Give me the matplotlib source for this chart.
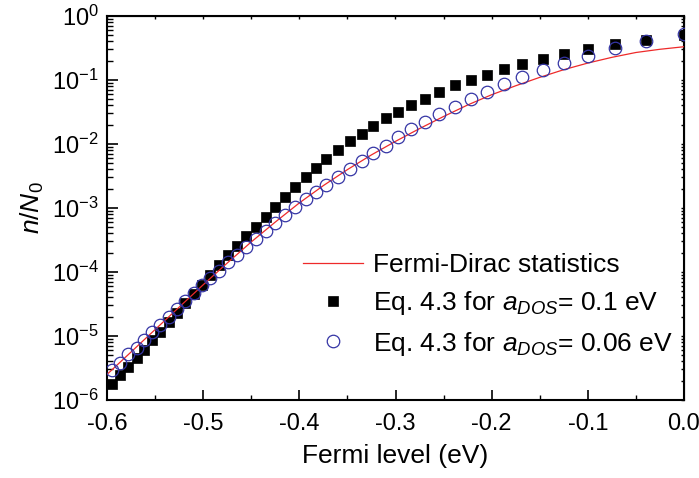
import numpy as np
import matplotlib
matplotlib.use("Agg")
import matplotlib.pyplot as plt
from matplotlib.ticker import LogLocator, NullFormatter, MultipleLocator

plt.rcParams['font.family'] = ['Liberation Sans', 'DejaVu Sans']
plt.rcParams['mathtext.fontset'] = 'custom'
plt.rcParams['mathtext.rm'] = 'Liberation Sans'
plt.rcParams['mathtext.it'] = 'Liberation Sans:italic'
plt.rcParams['mathtext.bf'] = 'Liberation Sans:bold'

# ---- data ----
fermi_level = [-0.595, -0.5865, -0.578, -0.569, -0.562, -0.5535, -0.545, -0.536, -0.5275,
               -0.519, -0.510, -0.501, -0.493, -0.484, -0.474, -0.465, -0.455, -0.445,
               -0.435, -0.425, -0.415, -0.4045, -0.393, -0.383, -0.372, -0.3595, -0.347,
               -0.335, -0.323, -0.310, -0.297, -0.284, -0.269, -0.2545, -0.238, -0.222,
               -0.205, -0.187, -0.168, -0.147, -0.1245, -0.100, -0.072, -0.040, 0.0]

n_adds_01 = [1.78e-6, 2.45e-6, 3.31e-6, 4.47e-6, 6.03e-6, 8.51e-6, 1.17e-5, 1.66e-5, 2.29e-5,
             3.24e-5, 4.47e-5, 6.31e-5, 8.91e-5, 1.29e-4, 1.82e-4, 2.57e-4, 3.63e-4, 5.13e-4,
             7.24e-4, 1.05e-3, 1.51e-3, 2.14e-3, 3.02e-3, 4.22e-3, 5.75e-3, 8.13e-3, 1.10e-2,
             1.45e-2, 1.91e-2, 2.51e-2, 3.20e-2, 4.07e-2, 5.13e-2, 6.61e-2, 8.32e-2, 0.100,
             0.120, 0.148, 0.178, 0.214, 0.257, 0.302, 0.363, 0.422, 0.500]

n_adds_006 = [2.95e-6, 3.83e-6, 5.25e-6, 6.61e-6, 8.71e-6, 1.17e-5, 1.51e-5, 2.00e-5, 2.63e-5,
              3.55e-5, 4.68e-5, 6.31e-5, 8.13e-5, 1.05e-4, 1.45e-4, 1.86e-4, 2.45e-4, 3.31e-4,
              4.37e-4, 5.75e-4, 7.76e-4, 1.05e-3, 1.38e-3, 1.78e-3, 2.29e-3, 3.09e-3, 4.03e-3,
              5.50e-3, 7.16e-3, 9.33e-3, 1.27e-2, 1.70e-2, 2.19e-2, 2.95e-2, 3.80e-2, 5.01e-2,
              6.61e-2, 8.51e-2, 0.110, 0.145, 0.186, 0.237, 0.313, 0.407, 0.520]

fd_energy = [-0.6, -0.575, -0.55, -0.525, -0.5, -0.475, -0.45, -0.425, -0.4, -0.375, -0.35,
             -0.325, -0.3, -0.275, -0.25, -0.225, -0.2, -0.175, -0.15, -0.125, -0.1, -0.075,
             -0.05, -0.025, 0.0]
fd_values = [2.51e-6, 5.62e-6, 1.26e-5, 2.82e-5, 6.31e-5, 1.38e-4, 2.95e-4, 6.03e-4, 1.20e-3,
             2.24e-3, 3.98e-3, 6.76e-3, 1.10e-2, 1.74e-2, 2.69e-2, 4.07e-2, 5.89e-2, 8.13e-2,
             0.110, 0.145, 0.184, 0.226, 0.269, 0.302, 0.331]

legend_labels = ['Fermi-Dirac statistics',
                 r'Eq. 4.3 for $a_{DOS}$= 0.1 eV',
                 r'Eq. 4.3 for $a_{DOS}$= 0.06 eV']

x_ticks = [-0.6, -0.5, -0.4, -0.3, -0.2, -0.1, 0.0]
x_ticklabels = ['-0.6', '-0.5', '-0.4', '-0.3', '-0.2', '-0.1', '0.0']

# ---- figure ----
fig = plt.figure(figsize=(6.99, 4.78), dpi=100)
ax = fig.add_axes([107/699, 1 - 400/478, 577/699, 384/478])

ax.plot(fd_energy, fd_values, color='#ee2a2a', lw=0.9, label=legend_labels[0], zorder=3)
ax.plot(fermi_level, n_adds_01, ls='none', marker='s', ms=7.6, mfc='black', mec='black',
        mew=0.5, label=legend_labels[1], zorder=2)
ax.plot(fermi_level, n_adds_006, ls='none', marker='o', ms=9.0, mfc='none', mec='#3535a5',
        mew=0.9, label=legend_labels[2], zorder=4)

ax.set_yscale('log')
ax.set_xlim(-0.6, 0.0)
ax.set_ylim(1e-6, 1.0)

ax.set_xticks(x_ticks)
ax.set_xticklabels(x_ticklabels)
ax.xaxis.set_minor_locator(MultipleLocator(0.05))
ax.yaxis.set_major_locator(LogLocator(base=10, numticks=20))
ax.yaxis.set_minor_locator(LogLocator(base=10, subs=np.arange(2, 10), numticks=20))
ax.yaxis.set_minor_formatter(NullFormatter())

for s in ax.spines.values():
    s.set_linewidth(1.5)

ax.tick_params(axis='both', which='major', direction='in', labelsize=17, width=1.2)
ax.tick_params(axis='x', which='major', length=7, pad=9)
ax.tick_params(axis='x', which='minor', direction='in', length=3.5, width=1.0)
ax.tick_params(axis='y', which='major', length=8, pad=6)
ax.tick_params(axis='y', which='minor', direction='in', length=4.5, width=1.0)

secx = ax.secondary_xaxis('top')
secx.xaxis.set_major_locator(MultipleLocator(0.05))
secx.tick_params(direction='in', length=2.5, width=1.0, labeltop=False)
secy = ax.secondary_yaxis('right')
secy.yaxis.set_major_locator(LogLocator(base=10, numticks=20))
secy.yaxis.set_minor_locator(LogLocator(base=10, subs=np.arange(2, 10), numticks=20))
secy.tick_params(which='both', direction='in', length=2.5, width=1.0, labelright=False)
secy.yaxis.set_minor_formatter(NullFormatter())

ax.set_xlabel('Fermi level (eV)', fontsize=19, labelpad=7)
ax.set_ylabel(r'$n/N_0$', fontsize=19, labelpad=4)

leg = ax.legend(loc='upper left', bbox_to_anchor=(0.34, 0.382), frameon=False,
                fontsize=19, handlelength=2.25, handletextpad=0.4, labelspacing=0.46,
                borderpad=0, borderaxespad=0, numpoints=1)

fig.savefig('out.png', dpi=100)
